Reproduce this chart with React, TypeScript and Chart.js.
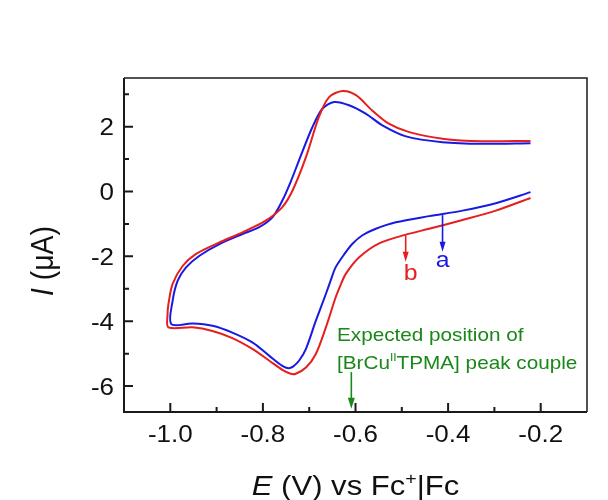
import { useEffect, useRef } from 'react';
import { Chart, registerables } from 'chart.js';

Chart.register(...registerables);

// Curve a (blue): cathodic sweep from -0.22 V to -1.0 V, then anodic back
const blueE = [
  -0.222, -0.297, -0.369, -0.441, -0.513, -0.556, -0.585, -0.607, -0.625, -0.643,
  -0.653, -0.664, -0.686, -0.707, -0.722, -0.735, -0.745, -0.758, -0.786, -0.822, -0.866,
  -0.909, -0.952, -0.998,
  -0.995, -0.984, -0.966, -0.937, -0.894, -0.844, -0.808, -0.779, -0.758, -0.740,
  -0.722, -0.693, -0.671, -0.646, -0.614, -0.578, -0.542, -0.491, -0.412, -0.326, -0.222,
];
const blueI = [
  -0.02, -0.36, -0.59, -0.76, -0.95, -1.15, -1.35, -1.62, -1.95, -2.34,
  -2.72, -3.16, -4.0, -4.85, -5.22, -5.4, -5.45, -5.38, -5.07, -4.66, -4.35,
  -4.14, -4.07, -4.09,
  -3.37, -2.75, -2.34, -1.98, -1.62, -1.31, -1.1, -0.79, -0.28, 0.3,
  0.96, 1.99, 2.56, 2.76, 2.66, 2.4, 2.04, 1.7, 1.52, 1.47, 1.49,
];

// Curve b (red)
const redE = [
  -0.222, -0.297, -0.369, -0.441, -0.491, -0.549, -0.592, -0.621, -0.632, -0.643, -0.664,
  -0.686, -0.707, -0.729, -0.740, -0.758, -0.786, -0.822, -0.866, -0.909, -0.952,
  -1.004,
  -1.006, -1.004, -0.995, -0.973, -0.945, -0.894, -0.844, -0.794, -0.758, -0.736,
  -0.707, -0.679, -0.657, -0.628, -0.599, -0.564, -0.528, -0.484, -0.412, -0.326, -0.222,
];
const redI = [
  -0.2, -0.59, -0.88, -1.15, -1.33, -1.6, -2.03, -2.54, -2.88, -3.27, -4.19,
  -5.02, -5.43, -5.62, -5.62, -5.5, -5.22, -4.86, -4.52, -4.3, -4.19,
  -4.19,
  -3.8, -3.47, -2.85, -2.29, -1.93, -1.57, -1.26, -0.9, -0.48, 0.03,
  1.06, 2.3, 2.91, 3.1, 2.97, 2.5, 2.09, 1.83, 1.63, 1.55, 1.56,
];

const xTickValues = [-1.0, -0.8, -0.6, -0.4, -0.2];
const xTickLabels = ['-1.0', '-0.8', '-0.6', '-0.4', '-0.2'];
const xMinorValues = [-0.9, -0.7, -0.5, -0.3];
const yTickValues = [2, 0, -2, -4, -6];
const yTickLabels = ['2', '0', '-2', '-4', '-6'];
const yMinorValues = [3, 1, -1, -3, -5];

const BLUE = 'rgb(25,25,225)';
const RED = 'rgb(230,30,30)';
const GREEN = 'rgb(25,135,25)';
const AXIS = '#1a1a1a';
const FONT = '"Liberation Sans", Arial, sans-serif';
const STRETCH = 1.13;

type Run = { text: string; font: string; dy?: number };

function drawRuns(ctx: CanvasRenderingContext2D, runs: Run[], x: number, y: number, align: 'left' | 'center' | 'right', stretch: number) {
  let total = 0;
  const widths = runs.map((r) => {
    ctx.font = r.font;
    const w = ctx.measureText(r.text).width;
    total += w;
    return w;
  });
  ctx.save();
  ctx.translate(x, y);
  ctx.scale(stretch, 1);
  let cx = align === 'left' ? 0 : align === 'center' ? -total / 2 : -total;
  ctx.textAlign = 'left';
  ctx.textBaseline = 'alphabetic';
  runs.forEach((r, i) => {
    ctx.font = r.font;
    ctx.fillText(r.text, cx, r.dy || 0);
    cx += widths[i];
  });
  ctx.restore();
}

function arrow(ctx: CanvasRenderingContext2D, x: number, y0: number, y1: number, color: string, head: number, halfW: number) {
  ctx.save();
  ctx.strokeStyle = color;
  ctx.fillStyle = color;
  ctx.lineWidth = 1.6;
  ctx.beginPath();
  ctx.moveTo(x, y0);
  ctx.lineTo(x, y1 - head + 1);
  ctx.stroke();
  ctx.beginPath();
  ctx.moveTo(x - halfW, y1 - head);
  ctx.lineTo(x + halfW, y1 - head);
  ctx.lineTo(x, y1);
  ctx.closePath();
  ctx.fill();
  ctx.restore();
}

const decorPlugin = {
  id: 'decor',
  afterDraw(chart: any) {
    const { ctx, chartArea } = chart;
    const { left, right, top, bottom } = chartArea;
    const xs = chart.scales.x;
    const ys = chart.scales.y;
    ctx.save();
    // frame
    ctx.strokeStyle = AXIS;
    ctx.lineWidth = 1.5;
    ctx.beginPath();
    ctx.moveTo(left, top);
    ctx.lineTo(right, top);
    ctx.lineTo(right, bottom);
    ctx.stroke();
    ctx.lineWidth = 2;
    ctx.beginPath();
    ctx.moveTo(left, top);
    ctx.lineTo(left, bottom);
    ctx.lineTo(right, bottom);
    ctx.stroke();
    // ticks (inward)
    ctx.lineWidth = 2;
    ctx.beginPath();
    xTickValues.forEach((v) => {
      const px = xs.getPixelForValue(v);
      ctx.moveTo(px, bottom);
      ctx.lineTo(px, bottom - 9);
    });
    xMinorValues.forEach((v) => {
      const px = xs.getPixelForValue(v);
      ctx.moveTo(px, bottom);
      ctx.lineTo(px, bottom - 5);
    });
    yTickValues.forEach((v) => {
      const py = ys.getPixelForValue(v);
      ctx.moveTo(left, py);
      ctx.lineTo(left + 9, py);
    });
    yMinorValues.forEach((v) => {
      const py = ys.getPixelForValue(v);
      ctx.moveTo(left, py);
      ctx.lineTo(left + 5, py);
    });
    ctx.stroke();

    // tick labels
    ctx.fillStyle = '#111';
    const tickFont = `23px ${FONT}`;
    xTickValues.forEach((v, i) => {
      drawRuns(ctx, [{ text: xTickLabels[i], font: tickFont }], xs.getPixelForValue(v), bottom + 30, 'center', STRETCH);
    });
    yTickValues.forEach((v, i) => {
      drawRuns(ctx, [{ text: yTickLabels[i], font: tickFont }], left - 10, ys.getPixelForValue(v) + 8.5, 'right', STRETCH);
    });

    // axis titles
    const titleFont = `27px ${FONT}`;
    const titleItal = `italic 27px ${FONT}`;
    drawRuns(
      ctx,
      [
        { text: 'E', font: titleItal },
        { text: ' (V) vs Fc', font: titleFont },
        { text: '+', font: `17px ${FONT}`, dy: -11 },
        { text: '|Fc', font: titleFont },
      ],
      (left + right) / 2,
      495,
      'center',
      1.15
    );
    ctx.save();
    ctx.translate(53, 261);
    ctx.rotate(-Math.PI / 2);
    ctx.scale(1, STRETCH);
    drawRuns(ctx, [
      { text: 'I', font: titleItal },
      { text: ' (\u03bcA)', font: titleFont },
    ], 0, 0, 'center', 1.05);
    ctx.restore();

    // annotations
    const ax = xs.getPixelForValue(-0.412);
    arrow(ctx, ax, ys.getPixelForValue(-0.73), ys.getPixelForValue(-1.86), BLUE, 10, 3);
    ctx.fillStyle = BLUE;
    drawRuns(ctx, [{ text: 'a', font: `22px ${FONT}` }], ax, ys.getPixelForValue(-2.34), 'center', STRETCH);

    const bx = xs.getPixelForValue(-0.4916);
    arrow(ctx, bx, ys.getPixelForValue(-1.35), ys.getPixelForValue(-2.17), RED, 10, 3);
    ctx.fillStyle = RED;
    drawRuns(ctx, [{ text: 'b', font: `22px ${FONT}` }], xs.getPixelForValue(-0.481), ys.getPixelForValue(-2.74), 'center', STRETCH);

    const gx = xs.getPixelForValue(-0.609);
    arrow(ctx, gx, ys.getPixelForValue(-5.57), ys.getPixelForValue(-6.7), GREEN, 11, 3.5);
    ctx.fillStyle = GREEN;
    const gFont = `19px ${FONT}`;
    const tx = xs.getPixelForValue(-0.64);
    drawRuns(ctx, [{ text: 'Expected position of', font: gFont }], tx, ys.getPixelForValue(-4.62), 'left', 1.09);
    drawRuns(
      ctx,
      [
        { text: '[BrCu', font: gFont },
        { text: 'II', font: `11px ${FONT}`, dy: -8 },
        { text: 'TPMA] peak couple', font: gFont },
      ],
      tx,
      ys.getPixelForValue(-5.46),
      'left',
      1.09
    );
    ctx.restore();
  },
};

export default function App() {
  const ref = useRef<HTMLCanvasElement | null>(null);
  useEffect(() => {
    document.body.style.margin = '0';
    document.body.style.background = '#fff';
    const canvas = ref.current;
    if (!canvas) return;
    const blueData = blueE.map((e, i) => ({ x: e, y: blueI[i] }));
    const redData = redE.map((e, i) => ({ x: e, y: redI[i] }));
    const chart = new Chart(canvas, {
      type: 'scatter',
      data: {
        datasets: [
          { label: 'a', data: blueData, showLine: true, borderColor: BLUE, borderWidth: 2, pointRadius: 0, tension: 0.3, order: 2 },
          { label: 'b', data: redData, showLine: true, borderColor: RED, borderWidth: 2, pointRadius: 0, tension: 0.3, order: 1 },
        ],
      },
      options: {
        responsive: false,
        animation: false,
        layout: { padding: { left: 124, right: 21, top: 78, bottom: 88 } },
        plugins: { legend: { display: false }, tooltip: { enabled: false } },
        scales: {
          x: {
            type: 'linear', min: -1.1, max: -0.1,
            ticks: { display: false }, grid: { display: false, drawTicks: false }, border: { display: false },
            afterFit: (s: any) => { s.height = 0; },
          },
          y: {
            type: 'linear', min: -6.8, max: 3.5,
            ticks: { display: false }, grid: { display: false, drawTicks: false }, border: { display: false },
            afterFit: (s: any) => { s.width = 0; },
          },
        },
      },
      plugins: [decorPlugin],
    });
    return () => chart.destroy();
  }, []);
  return <canvas ref={ref} width={608} height={500} style={{ display: 'block' }} />;
}
